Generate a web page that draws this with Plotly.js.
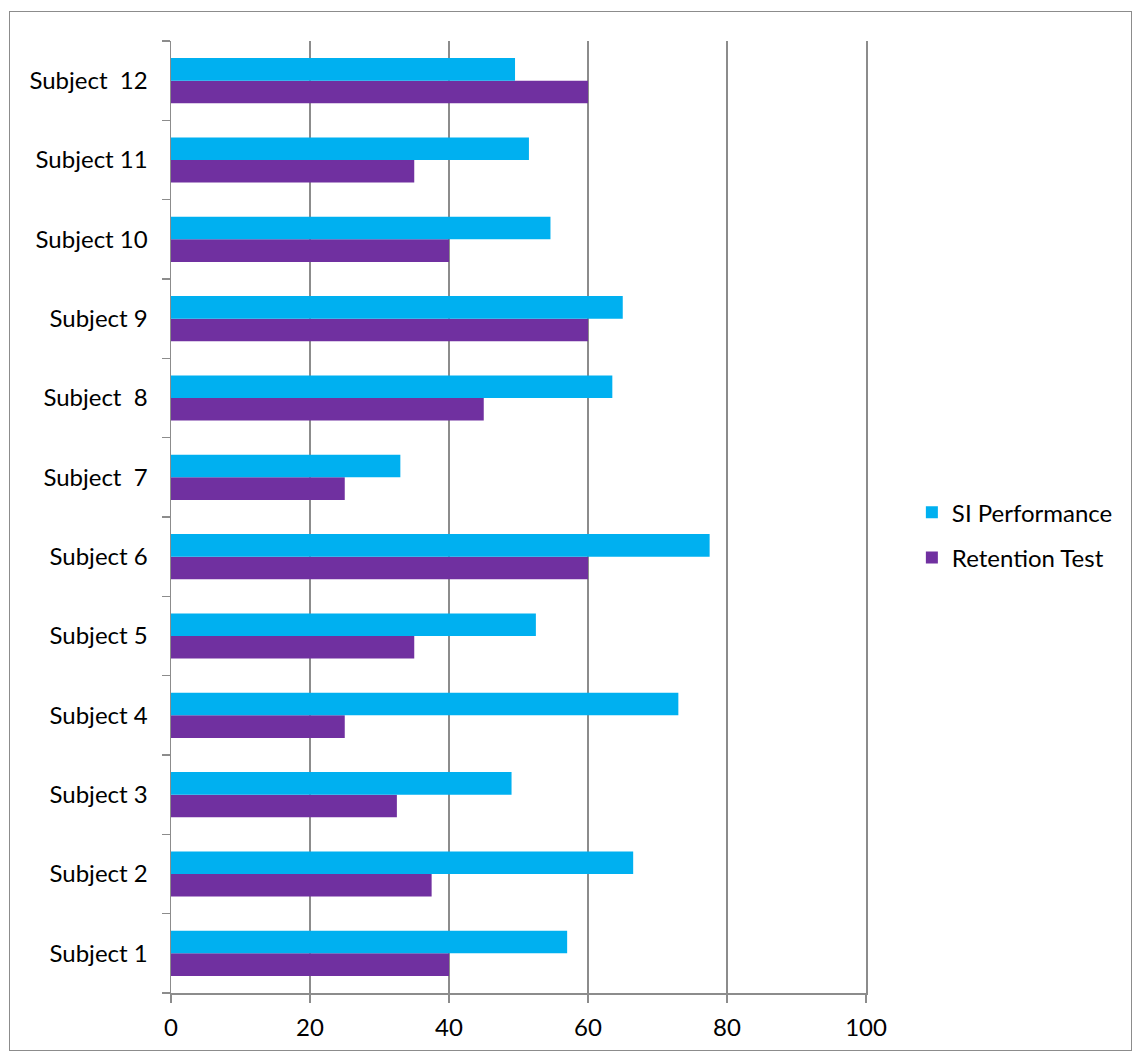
<!DOCTYPE html>
<html>
<head>
<meta charset="utf-8">
<script src="https://cdn.plot.ly/plotly-3.0.1.min.js"></script>
<style>
  html, body { margin: 0; padding: 0; background: #fff; }
  #wrap { position: relative; width: 1133px; height: 1052px; }
  #chart { position: absolute; left: 0; top: 0; width: 1133px; height: 1052px; }
  #frame { position: absolute; left: 9px; top: 11px; width: 1121px; height: 1038px; border: 1.5px solid #8c8c8c; pointer-events: none; }
</style>
</head>
<body>
<div id="wrap">
  <div id="chart"></div>
  <div id="frame"></div>
</div>
<script>
const subjects = ["Subject 1", "Subject 2", "Subject 3", "Subject 4", "Subject 5", "Subject 6",
                  "Subject\u00a0 7", "Subject\u00a0 8", "Subject 9", "Subject 10", "Subject 11", "Subject\u00a0 12"];
const siPerformance = [57, 66.5, 49, 73, 52.5, 77.5, 33, 63.5, 65, 54.6, 51.5, 49.5];
const retentionTest = [40, 37.5, 32.5, 25, 35, 60, 25, 45, 60, 40, 35, 60];
const xTicks = [0, 20, 40, 60, 80, 100];

const FONT = "Lato, 'Open Sans', sans-serif";
const FS = 24;

const traces = [
  {
    type: "bar", orientation: "h", name: "Retention Test",
    y: subjects, x: retentionTest,
    marker: { color: "#7030A0" }, legendgroup: "r", legendrank: 2
  },
  {
    type: "bar", orientation: "h", name: "SI Performance",
    y: subjects, x: siPerformance,
    marker: { color: "#00B0F0" }, legendgroup: "s", legendrank: 1
  }
];

const layout = {
  width: 1133, height: 1052,
  margin: { l: 171, r: 267, t: 41, b: 59 },
  paper_bgcolor: "#ffffff", plot_bgcolor: "#ffffff",
  font: { family: FONT, size: FS, color: "#000" },
  barmode: "group",
  bargap: 0.43, bargroupgap: 0,
  xaxis: {
    range: [0, 100], tickvals: xTicks, ticktext: xTicks.map(String),
    showgrid: true, gridcolor: "#8c8c8c", gridwidth: 1.5,
    zeroline: false, showline: true, linecolor: "#8c8c8c", linewidth: 1.5,
    ticks: "outside", ticklen: 8, tickcolor: "#8c8c8c", tickwidth: 1.5,
    tickfont: { family: FONT, size: FS, color: "#000" },
    ticklabelstandoff: 5, fixedrange: true
  },
  yaxis: {
    type: "category", categoryorder: "array", categoryarray: subjects,
    showgrid: false, zeroline: false, showline: true, mirror: true,
    linecolor: "#8c8c8c", linewidth: 1.5,
    ticks: "outside", ticklen: 8, tickcolor: "#8c8c8c", tickwidth: 1.5, tickson: "boundaries",
    tickfont: { family: FONT, size: FS, color: "#000" },
    ticklabelstandoff: 17, fixedrange: true
  },
  showlegend: true,
  legend: {
    x: 1.066, xanchor: "left", y: 0.481, yanchor: "middle",
    traceorder: "grouped", tracegroupgap: 11,
    font: { family: FONT, size: FS, color: "#000" },
    bgcolor: "rgba(0,0,0,0)", borderwidth: 0
  }
};

Plotly.newPlot("chart", traces, layout, { displayModeBar: false, staticPlot: true });
</script>
</body>
</html>
